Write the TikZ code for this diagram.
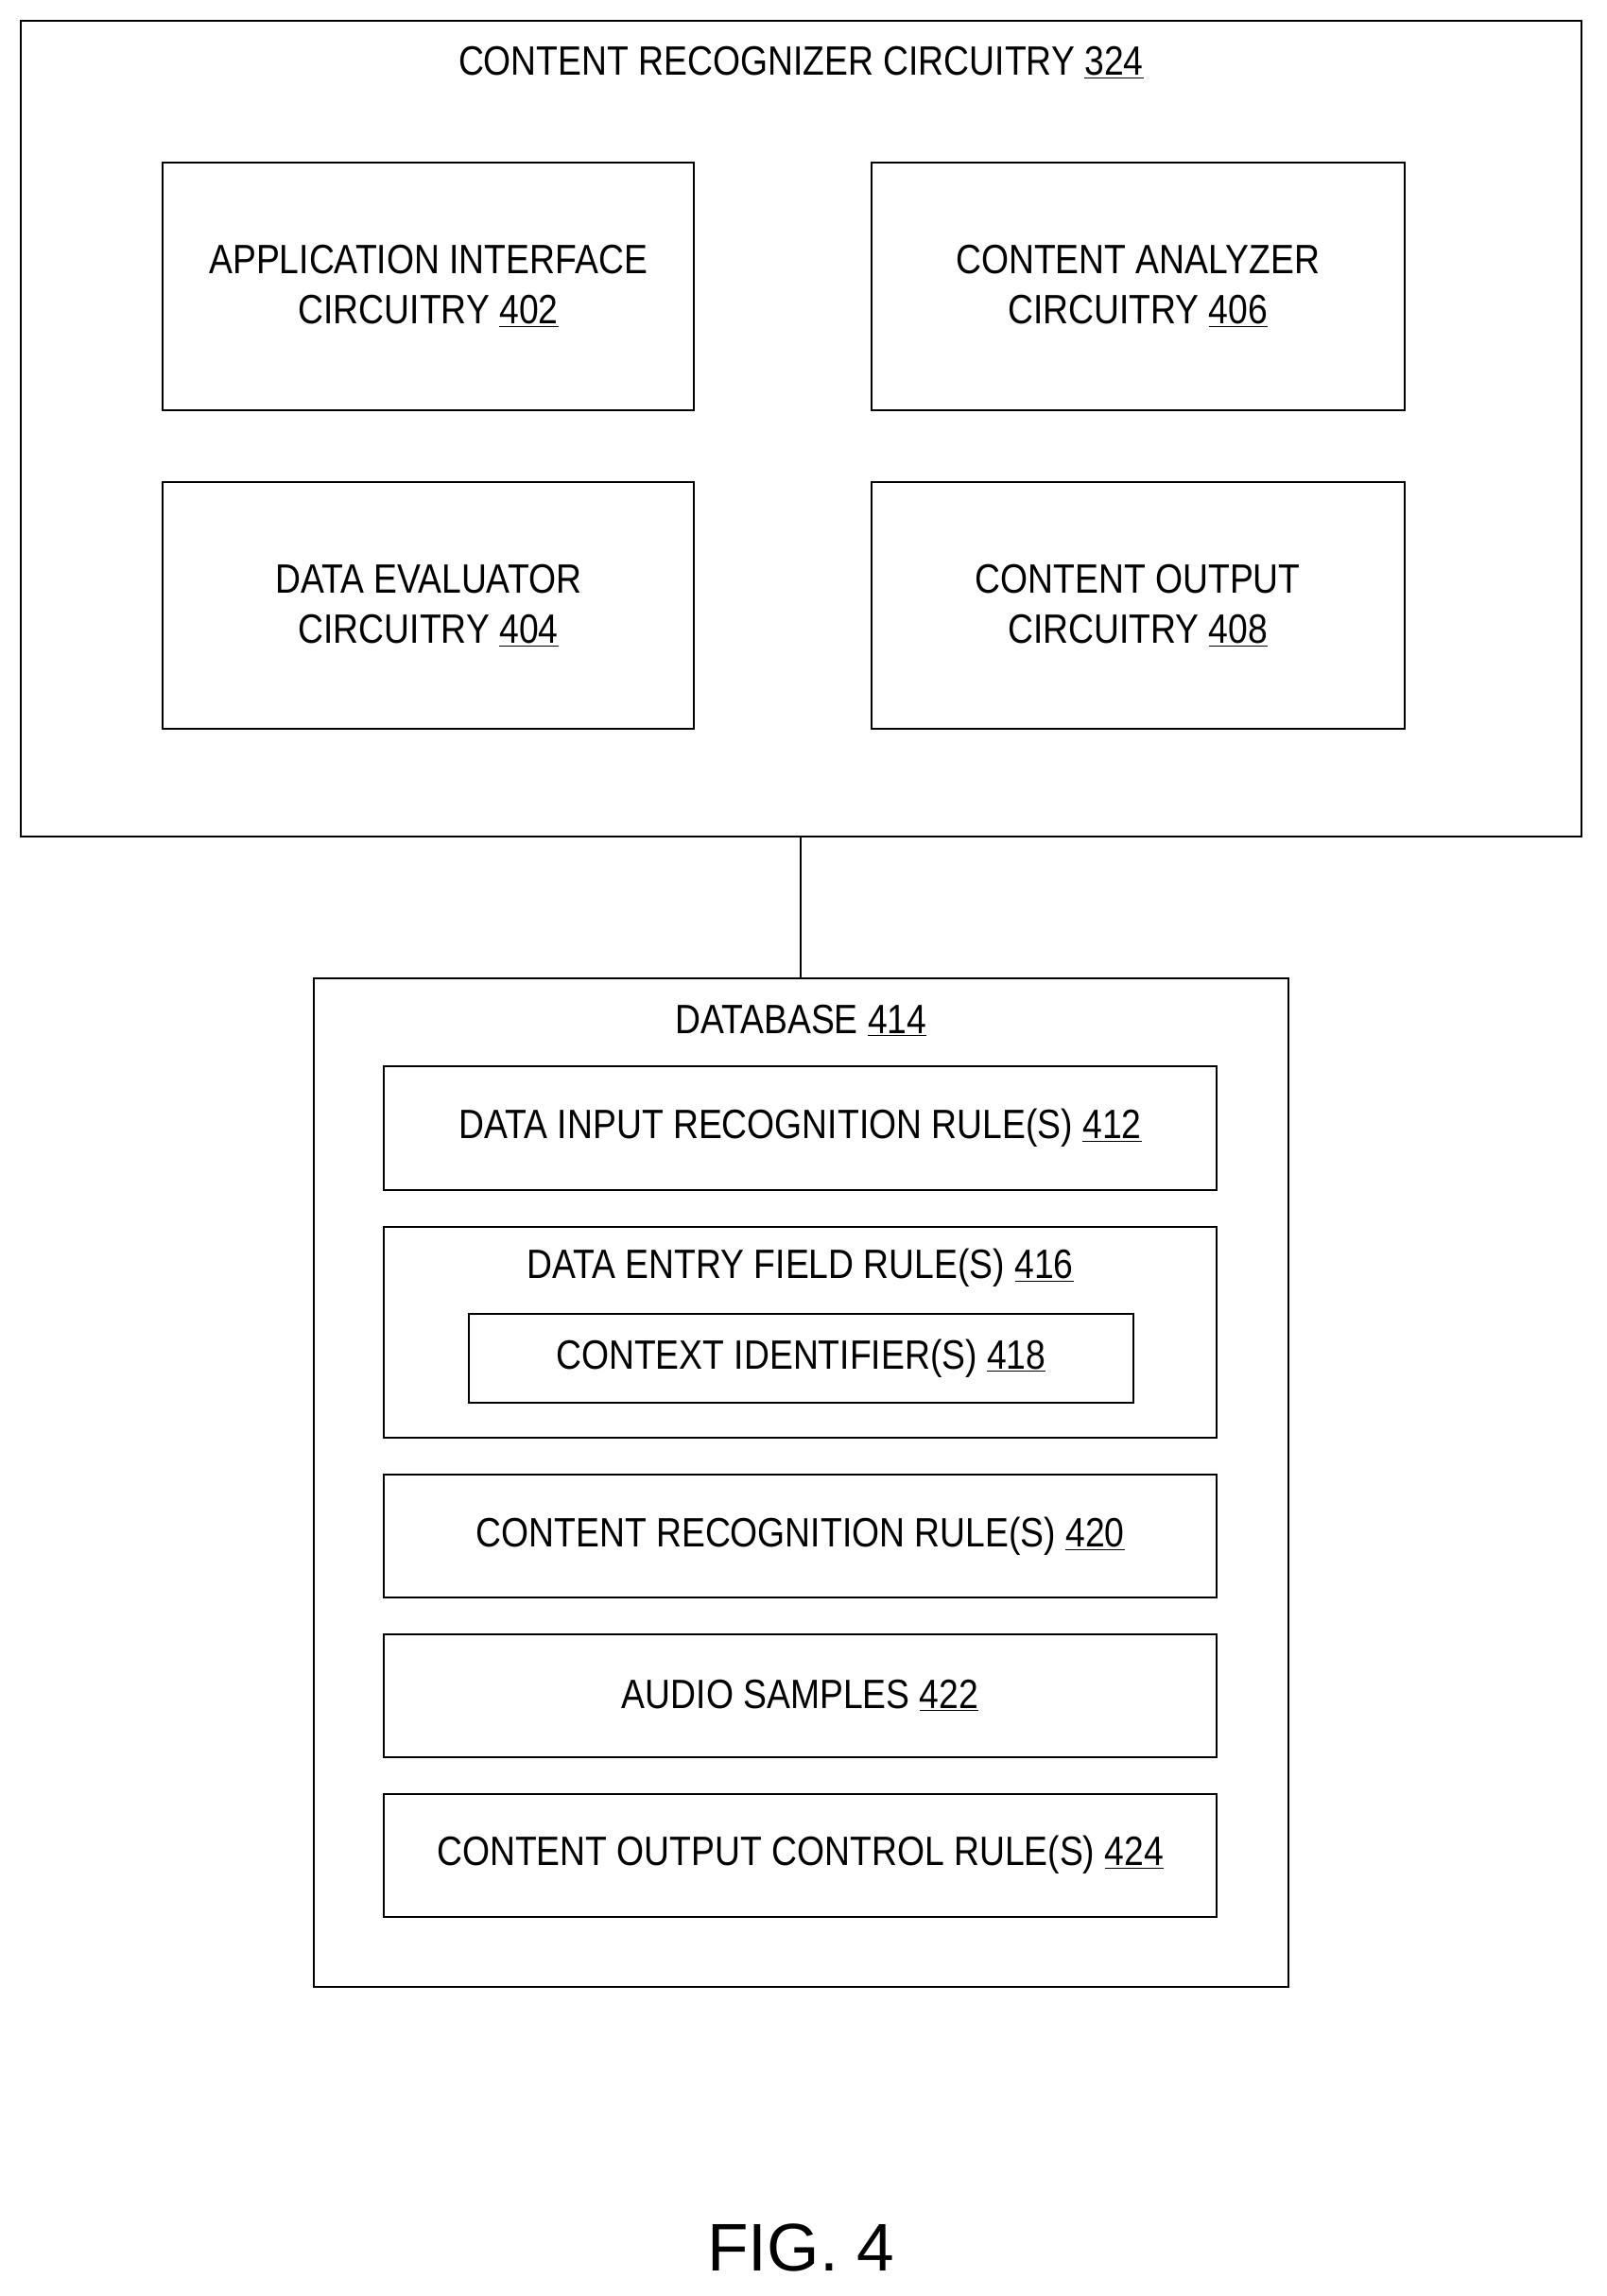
\documentclass[tikz,border=0pt]{standalone}
\usepackage{fontspec}
\setmainfont{Liberation Sans}[FakeStretch=0.86]
\newfontfamily\figfont{Liberation Sans}
\usetikzlibrary{positioning}
\newcommand{\refnum}[1]{\underline{#1}}
\begin{document}
\begin{tikzpicture}[
    x=1pt, y=-1pt,
    frame/.style={draw, line width=1.3pt},
    block/.style={rectangle, draw, line width=1.3pt, align=center, font=\fontsize{28}{34}\selectfont},
    title/.style={font=\fontsize{28}{34}\selectfont},
]
\useasboundingbox (0,0) rectangle (1097,1568);

% Outer circuitry
\draw[frame] (14,14) rectangle (1080,571);
\node[title] (crc) at (547,43) {CONTENT RECOGNIZER CIRCUITRY \refnum{324}};
\coordinate (crcbot) at (547,571);

% Circuitry blocks
\node[block, minimum width=363pt, minimum height=169pt] (aic) at (292.5,195.5) {APPLICATION INTERFACE\\CIRCUITRY \refnum{402}};
\node[block, minimum width=364pt, minimum height=169pt] (cac) at (777,195.5) {CONTENT ANALYZER\\CIRCUITRY \refnum{406}};
\node[block, minimum width=363pt, minimum height=169pt] (dec) at (292.5,413.5) {DATA EVALUATOR\\CIRCUITRY \refnum{404}};
\node[block, minimum width=364pt, minimum height=169pt] (coc) at (777,413.5) {CONTENT OUTPUT\\CIRCUITRY \refnum{408}};

% Database
\draw[frame] (214,668) rectangle (880,1357);
\coordinate (dbtop) at (547,668);
\node[title] (db) at (547,697) {DATABASE \refnum{414}};

\node[block, minimum width=569pt, minimum height=85pt] (dirr) at (546.5,770.5) {DATA INPUT RECOGNITION RULE(S) \refnum{412}};
\draw[frame] (262,838) rectangle (831,982);
\node[title] (defr) at (546.5,866) {DATA ENTRY FIELD RULE(S) \refnum{416}};
\node[block, minimum width=454pt, minimum height=61pt] (cid) at (547,927.5) {CONTEXT IDENTIFIER(S) \refnum{418}};
\node[block, minimum width=569pt, minimum height=84pt] (crr) at (546.5,1049) {CONTENT RECOGNITION RULE(S) \refnum{420}};
\node[block, minimum width=569pt, minimum height=84pt] (aus) at (546.5,1158) {AUDIO SAMPLES \refnum{422}};
\node[block, minimum width=569pt, minimum height=84pt] (cocr) at (546.5,1267) {CONTENT OUTPUT CONTROL RULE(S) \refnum{424}};

% Connection
\draw[line width=1.3pt] (crcbot) -- (dbtop);

\node[font=\figfont\fontsize{46}{50}\selectfont] (fig) at (547,1535) {FIG. 4};
\end{tikzpicture}
\end{document}
